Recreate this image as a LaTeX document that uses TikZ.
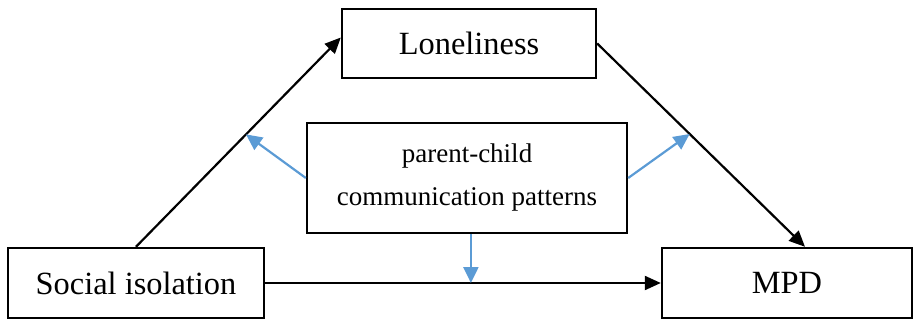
\documentclass[tikz,border=0pt]{standalone}
\usepackage{fontspec}
\setmainfont{Liberation Serif}
\usetikzlibrary{arrows.meta}
\definecolor{modblue}{RGB}{91,155,213}
\begin{document}
\begin{tikzpicture}[x=0.5pt, y=-0.5pt]
    % Define styles
    \tikzstyle{process} = [rectangle, draw=black, fill=white, line width=1.2pt, inner sep=0pt, text centered, font=\fontsize{16.2}{19}\selectfont]
    \tikzstyle{arrow} = [->, >={Triangle[length=8pt, width=7pt]}, line width=1.1pt]
    \tikzstyle{modarrow} = [->, >={Triangle[length=8pt, width=7.5pt]}, line width=1.1pt, draw=modblue, color=modblue]

    \useasboundingbox (0,0) rectangle (914,320);

    % Place nodes
    \node (isolation) [process, minimum width=128pt, minimum height=35pt] at (136,283) {Social isolation};
    \node (loneliness) [process, minimum width=127pt, minimum height=34.5pt] at (469,43.5) {Loneliness};
    \node (mpd) [process, minimum width=125pt, minimum height=35pt] at (787,283) {MPD};
    \node (patterns) [process, minimum width=160pt, minimum height=55pt, align=center, font=\fontsize{13.5}{21.5}\selectfont] at (467,178) {\raisebox{-1.5pt}{parent-child}\\\raisebox{-1.5pt}{communication patterns}};

    % Draw arrows
    \draw [arrow] (isolation.north) -- coordinate[pos=0.537] (pathA) ([yshift=3pt]loneliness.west);
    \draw [arrow] (loneliness.east) -- coordinate[pos=0.445] (pathB) ([xshift=9pt]mpd.north);
    \draw [arrow] (isolation.east) -- coordinate[pos=0.52] (pathC) (mpd.west);

    % Moderating arrows
    \draw [modarrow] (patterns.west) -- (pathA);
    \draw [modarrow] (patterns.east) -- (pathB);
    \draw [modarrow] (pathC |- patterns.south) -- (pathC);
\end{tikzpicture}
\end{document}
